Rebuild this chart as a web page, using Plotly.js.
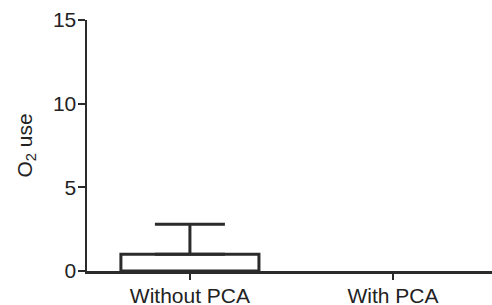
<!DOCTYPE html>
<html>
<head>
<meta charset="utf-8">
<script src="https://cdn.plot.ly/plotly-3.0.1.min.js"></script>
<style>html,body{margin:0;padding:0;background:#fff;}#chart{width:492px;height:305px;}</style>
</head>
<body>
<div id="chart"></div>
<script>
const categories = ["Without PCA", "With PCA"];
const o2Use = [1.0, 0];
const o2Error = [1.8, 0];
const yTicks = [0, 5, 10, 15];

const ink = "#2b2b2b";
const withErr = categories.map((c, i) => i).filter(i => o2Error[i] > 0);

const bars = {
  type: "bar",
  x: categories,
  y: o2Use,
  width: 0.68,
  marker: {color: "rgba(255,255,255,0)", line: {color: ink, width: o2Use.map(v => v > 0 ? 3 : 0)}},
  hoverinfo: "skip"
};
const errs = {
  type: "scatter",
  mode: "markers",
  x: withErr.map(i => categories[i]),
  y: withErr.map(i => o2Use[i]),
  marker: {size: 0.1, color: ink},
  error_y: {type: "data", symmetric: false, array: withErr.map(i => o2Error[i]), arrayminus: withErr.map(() => 0), color: ink, thickness: 3, width: 35},
  hoverinfo: "skip"
};

const layout = {
  width: 492, height: 305,
  margin: {l: 87, r: 0, t: 20, b: 34, pad: 0},
  paper_bgcolor: "#fff", plot_bgcolor: "#fff",
  showlegend: false,
  font: {family: "Liberation Sans, Arial, sans-serif", size: 21, color: "#222"},
  xaxis: {
    type: "category",
    categoryarray: categories,
    range: [-0.507, 1.488],
    showgrid: false, zeroline: false,
    showline: true, linecolor: ink, linewidth: 2.5,
    ticks: "outside", ticklen: 6, tickwidth: 2, tickcolor: ink,
    ticklabelstandoff: -2,
    tickfont: {size: 21}
  },
  yaxis: {
    range: [0, 15],
    tickvals: yTicks,
    showgrid: false, zeroline: false,
    showline: true, linecolor: ink, linewidth: 2.5,
    ticks: "outside", ticklen: 7, tickwidth: 2, tickcolor: ink,
    ticklabelstandoff: -3,
    tickfont: {size: 21},
    title: {text: "O<sub>2</sub> use", font: {size: 21}, standoff: 15}
  }
};

Plotly.newPlot("chart", [bars, errs], layout, {staticPlot: true, displayModeBar: false});
</script>
</body>
</html>
